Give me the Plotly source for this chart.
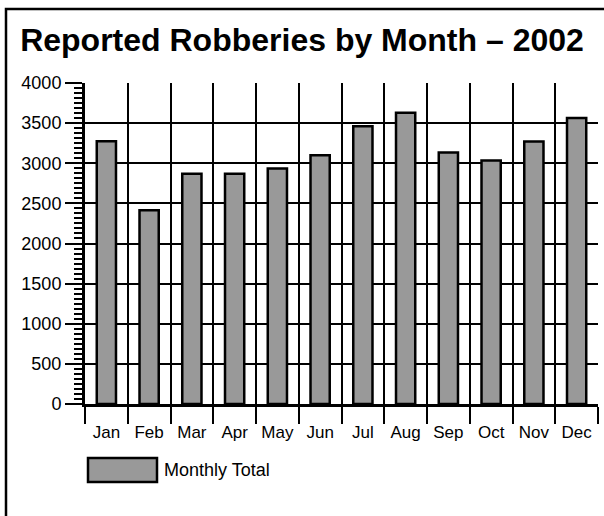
import plotly.graph_objects as go

months = ["Jan", "Feb", "Mar", "Apr", "May", "Jun", "Jul", "Aug", "Sep", "Oct", "Nov", "Dec"]
robberies = [3275, 2415, 2870, 2870, 2935, 3100, 3460, 3630, 3135, 3035, 3270, 3565]
series_name = "Monthly Total"
title_text = "Reported Robberies by Month – 2002"

W, H = 604, 516
L, R, T, B = 85, 6, 83, 112
pw, ph = W - L - R, H - T - B

def px(x):
    return (x - L) / pw

def py(y):
    return (H - B - y) / ph

FONT = "Arial, Liberation Sans, sans-serif"
BAR_COLOR = "#999999"

fig = go.Figure()
fig.add_trace(go.Bar(
    x=months, y=robberies, name=series_name,
    marker=dict(color=BAR_COLOR, line=dict(color="black", width=2.5)),
    width=0.45, showlegend=False, hoverinfo="skip",
))

shapes = [
    # outer frame (extends beyond right/bottom edge)
    dict(type="rect", xref="paper", yref="paper",
         x0=px(6), x1=px(660), y0=py(580), y1=py(9),
         line=dict(color="black", width=2.5), fillcolor="rgba(0,0,0,0)", layer="above"),
    # legend swatch
    dict(type="rect", xref="paper", yref="paper",
         x0=px(88), x1=px(157), y0=py(482), y1=py(458),
         line=dict(color="black", width=2.5), fillcolor=BAR_COLOR),
]

annotations = [
    dict(text=series_name, xref="paper", yref="paper", x=px(162), y=py(470),
         xanchor="left", yanchor="middle", showarrow=False,
         font=dict(family=FONT, size=18, color="black")),
]

fig.update_layout(
    width=W, height=H,
    margin=dict(l=L, r=R, t=T, b=B),
    paper_bgcolor="white", plot_bgcolor="white",
    font=dict(family=FONT, size=18, color="black"),
    title=dict(text="<b>" + title_text + "</b>", x=0.5, xref="container", xanchor="center",
               y=1 - 40 / H, yref="container", yanchor="middle",
               font=dict(family=FONT, size=32, color="black")),
    shapes=shapes, annotations=annotations,
    bargap=0.5,
)
fig.update_xaxes(
    type="category", tickson="boundaries", ticks="outside", ticklen=17, tickwidth=2,
    tickcolor="black", showgrid=True, gridcolor="black", gridwidth=2,
    showline=True, linecolor="black", linewidth=3, tickangle=0,
    ticklabelstandoff=11,
    tickfont=dict(family=FONT, size=17), zeroline=False,
)
fig.update_yaxes(
    range=[0, 4000], dtick=500, ticks="outside", ticklen=17, tickwidth=2,
    tickcolor="black", showgrid=True, gridcolor="black", gridwidth=2,
    showline=True, linecolor="black", linewidth=3, zeroline=False,
    tickfont=dict(family=FONT, size=18),
    minor=dict(dtick=62.5, ticks="outside", ticklen=8, tickwidth=2, tickcolor="black", showgrid=False),
)

fig.write_html("out.html", config={"displayModeBar": False},
               post_script="document.body.style.margin='0';document.body.style.overflow='hidden';")
